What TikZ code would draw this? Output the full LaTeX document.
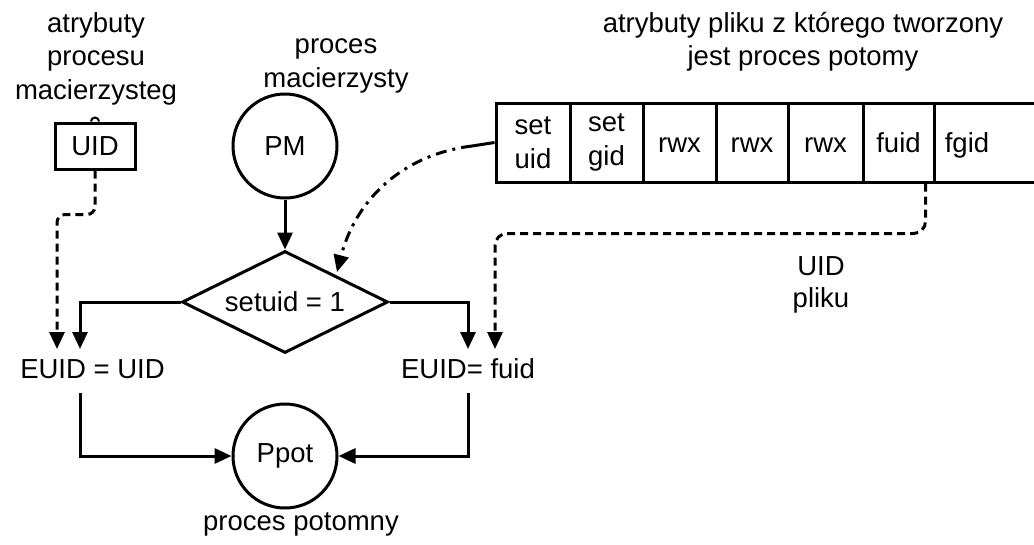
\documentclass[tikz,border=0pt]{standalone}
\usepackage{fontspec}
\setmainfont{Liberation Sans}
\usetikzlibrary{arrows.meta,shapes.geometric}
\begin{document}
\begin{tikzpicture}[x=1pt,y=-1pt,line width=3pt,
  font=\fontsize{27.5}{34}\selectfont,
  arr/.style={-{Triangle[length=17pt,width=15pt]}},
  dsh/.style={dash pattern=on 8pt off 5pt},
  dashdot/.style={dash pattern=on 11pt off 6pt on 3pt off 6pt},
  cell/.style={draw,minimum height=79pt,inner sep=0pt,align=center},
  one/.style={text height=19pt,text depth=0pt},
  proc/.style={draw,circle,minimum size=104pt,inner sep=0pt},
  lbl/.style={anchor=base,inner sep=0pt}]
\clip (0,0) rectangle (1034,544);
% labels
\node[lbl] (l1a) at (96,32) {atrybuty};
\node[lbl] (l1b) at (96,65) {procesu};
\node[lbl] (l1c) at (96,99) {macierzysteg};
\node[lbl] (l2a) at (336,53) {proces};
\node[lbl] (l2b) at (336,87) {macierzysty};
\node[lbl] (l3a) at (803,32) {atrybuty pliku z którego tworzony};
\node[lbl] (l3b) at (803,65) {jest proces potomy};
\node[lbl] (l4a) at (821,275) {UID};
\node[lbl] (l4b) at (821,307) {pliku};
\node[lbl] (l5) at (301,530) {proces potomny};
% nodes
\node[draw,minimum width=80pt,minimum height=46pt,inner sep=0pt] (uid) at (95,146) {UID};
\draw[line width=2pt] ([xshift=-4pt]uid.north) arc (180:0:4pt);
\node[proc] (pm) at (285,146) {PM};
\node[draw,diamond,minimum width=206pt,minimum height=102pt,inner sep=0pt] (dia) at (285,302) {};
\node (dtext) at (dia.center) {setuid = 1};
\node[lbl] (euid1) at (92.5,378) {EUID = UID};
\node[lbl] (euid2) at (468,378) {EUID= fuid};
\node[proc] (ppot) at (285,456) {Ppot};
% file attribute cells
\node[cell,minimum width=74pt] (c1) at (533,142.5) {set\\uid};
\node[cell,minimum width=73pt] (c2) at (606.5,142.5) {set\\gid};
\node[cell,one,minimum width=73pt] (c3) at (679.5,142.5) {rwx};
\node[cell,one,minimum width=72pt] (c4) at (752,142.5) {rwx};
\node[cell,one,minimum width=75pt] (c5) at (825.5,142.5) {rwx};
\node[cell,one,minimum width=71pt] (c6) at (898.5,142.5) {fuid};
\node[cell,minimum width=130pt] (c7) at (999,142.5) {};
\node[one,inner sep=0pt] (t7) at (967,142.5) {fgid};
% coordinates
\coordinate (aL1) at (57,349);
\coordinate (aL2) at (80,349);
\coordinate (aR1) at (468,349);
\coordinate (aR2) at (495,349);
\coordinate (bL) at (80,393);
\coordinate (bR) at (468,393);
\coordinate (s1) at (472,146);
\coordinate (dtip) at (337,272);
% connectors
\draw[arr] (pm) -- (dia);
\draw[arr] (dia.west) -| (aL2);
\draw[arr] (dia.east) -| (aR1);
\draw[arr,dsh,rounded corners=8pt] (uid.south) -- ++(0,44) -| (aL1);
\draw[arr,dsh,rounded corners=12pt] ([xshift=-10pt]c6.south east) -- ++(0,50) -| (aR2);
\draw[arr] (bL) |- (ppot);
\draw[arr] (bR) |- (ppot);
\draw (c1.west) -- (s1);
\draw[arr,dashdot] (s1) .. controls (400,155) and (355,202) .. (dtip);
\end{tikzpicture}
\end{document}
